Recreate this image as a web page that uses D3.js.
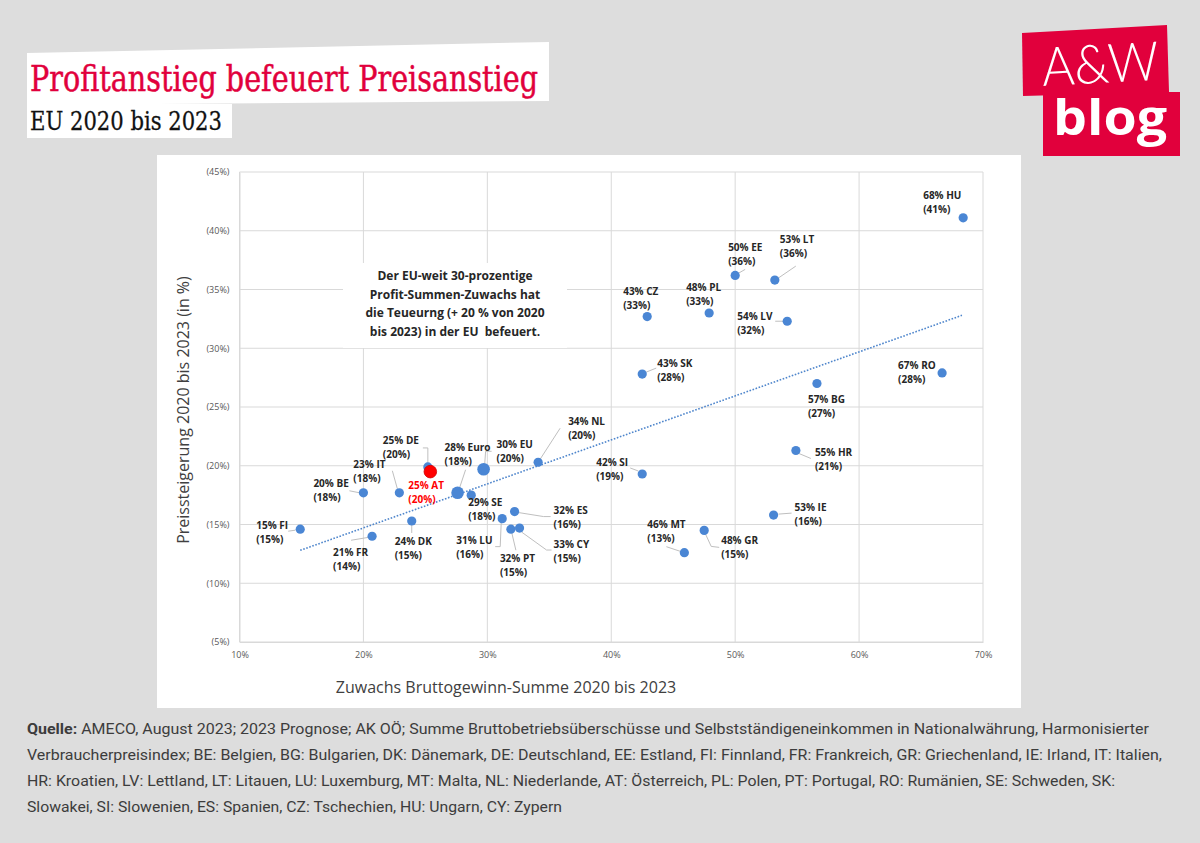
<!DOCTYPE html>
<html><head><meta charset="utf-8">
<script src="https://cdn.jsdelivr.net/npm/d3@7"></script>
<style>
html,body{margin:0;padding:0;background:#dddddd;}
svg{display:block;}
</style></head>
<body>
<svg id="c" width="1200" height="843"></svg>
<script>
// ---------- DATA ----------
const codes = ["HU","RO","EE","LT","CZ","PL","LV","SK","BG","HR","SI","IE","MT","GR","NL","EU","Euro","DE","AT","IT","BE","FI","FR","DK","SE","ES","LU","PT","CY"];
const profitGrowth = [68.4,66.7,50.0,53.2,42.9,47.9,54.2,42.5,56.6,54.9,42.5,53.1,45.9,47.5,34.1,29.7,27.6,25.2,25.4,22.9,20.0,14.9,20.7,23.9,28.7,32.2,31.2,31.9,32.6];
const priceGrowth  = [41.1,27.9,36.2,35.8,32.7,33.0,32.3,27.8,27.0,21.3,19.3,15.8,12.6,14.5,20.3,19.7,17.7,19.9,19.5,17.7,17.7,14.6,14.0,15.3,17.5,16.1,15.5,14.6,14.7];
const labelProfit  = [68,67,50,53,43,48,54,43,57,55,42,53,46,48,34,30,28,25,25,23,20,15,21,24,29,32,31,32,33];
const labelPrice   = [41,28,36,36,33,33,32,28,27,21,19,16,13,15,20,20,18,20,20,18,18,15,14,15,18,16,16,15,15];
const trendX = [14.9, 68.3];
const trendY = [12.8, 32.8];
const xTicks = [10,20,30,40,50,60,70];
const xTickLabels = ["10%","20%","30%","40%","50%","60%","70%"];
const yTicks = [5,10,15,20,25,30,35,40,45];
const yTickLabels = ["(5%)","(10%)","(15%)","(20%)","(25%)","(30%)","(35%)","(40%)","(45%)"];
const titleText = "Profitanstieg befeuert Preisanstieg";
const subtitleText = "EU 2020 bis 2023";
const xTitle = "Zuwachs Bruttogewinn-Summe 2020 bis 2023";
const yTitle = "Preissteigerung 2020 bis 2023 (in %)";
const noteLines = ["Der EU-weit 30-prozentige","Profit-Summen-Zuwachs hat","die Teueurng (+ 20 % von 2020","bis 2023) in der EU  befeuert."];
const footerLines = [
  ["Quelle:", " AMECO, August 2023; 2023 Prognose; AK OÖ; Summe Bruttobetriebsüberschüsse und Selbstständigeneinkommen in Nationalwährung, Harmonisierter"],
  ["", "Verbraucherpreisindex; BE: Belgien, BG: Bulgarien, DK: Dänemark, DE: Deutschland, EE: Estland, FI: Finnland, FR: Frankreich, GR: Griechenland, IE: Irland, IT: Italien,"],
  ["", "HR: Kroatien, LV: Lettland, LT: Litauen, LU: Luxemburg, MT: Malta, NL: Niederlande, AT: Österreich, PL: Polen, PT: Portugal, RO: Rumänien, SE: Schweden, SK:"],
  ["", "Slowakei, SI: Slowenien, ES: Spanien, CZ: Tschechien, HU: Ungarn, CY: Zypern"]
];

// ---------- LAYOUT (label offsets relative to dot, px) ----------
const labelOffset = {
  HU:[-40,-22], RO:[-44,-7], EE:[-7,-28], LT:[5,-41], CZ:[-24,-25], PL:[-23,-26], LV:[-50,-5],
  SK:[15,-11], BG:[-9,16], HR:[19,2], SI:[-46,-11], IE:[21,-8], MT:[-37,-28], GR:[17,10],
  NL:[30,-41], EU:[13,-25], Euro:[-13,-45], DE:[-45,-26], AT:[-22,14], IT:[-46,-28], BE:[-50,-9],
  FI:[-44,-4], FR:[-39,16], DK:[-17,21], SE:[-3,7], ES:[39,-1], LU:[-46,22], PT:[-11,29], CY:[34,16]
};
const leaders = {
  EE:[[3,-2],[10,-6]], LT:[[2,-1],[21,-14]], LV:[[-12,0],[-4,0]], SK:[[4,-2],[14,-6]],
  HR:[[3,3],[15,8]], SI:[[-12,-6],[-4,-3]], IE:[[5,-1],[18,-2]], MT:[[-18,-6],[-3,-1]],
  GR:[[1,3],[7,16],[15,17]], DE:[[-5,-19],[0,-19],[0,-3]], IT:[[-7,-22],[-2,-4]],
  BE:[[-14,-2],[-4,0]], FI:[[-12,2],[-5,1]], FR:[[-21,4],[-3,1]], DK:[[0,4],[0,12]],
  Euro:[[2,-5],[8,-23]], EU:[[1,-4],[2,-18],[8,-18]], NL:[[2,-3],[22,-34]],
  ES:[[4,1],[29,5],[36,5]], LU:[[-1,4],[-2,28],[-7,28]], PT:[[1,4],[5,21]], CY:[[2,4],[27,22],[32,22]]
};

const svg = d3.select("#c");
const RED = "#e1003c";
const BLUE = "#4a86d4";

// background
svg.append("rect").attr("width",1200).attr("height",843).attr("fill","#dddddd");

// ---------- Title ----------
svg.append("polygon").attr("points","27,53 549,42 549,101 27,105").attr("fill","#fff");
svg.append("rect").attr("x",27).attr("y",104).attr("width",205).attr("height",34).attr("fill","#fff");
svg.append("text").attr("x",30).attr("y",91).attr("font-family","'DejaVu Serif', serif")
  .attr("font-size",35).attr("fill",RED).attr("stroke",RED).attr("stroke-width",0.5)
  .attr("textLength",508).attr("lengthAdjust","spacingAndGlyphs")
  .text(titleText);
svg.append("text").attr("x",30).attr("y",130).attr("font-family","'DejaVu Serif', serif")
  .attr("font-size",26).attr("fill","#111").attr("stroke","#111").attr("stroke-width",0.3)
  .attr("textLength",192).attr("lengthAdjust","spacingAndGlyphs")
  .text(subtitleText);

// ---------- Logo ----------
svg.append("polygon").attr("points","1022,33 1167,25 1169,92 1023,96").attr("fill",RED);
svg.append("rect").attr("x",1043).attr("y",92).attr("width",137).attr("height",64).attr("fill",RED);
svg.append("text").attr("x",1100).attr("y",83).attr("text-anchor","middle")
  .attr("transform","rotate(-3,1100,63)")
  .attr("font-family","Lato, 'Open Sans', sans-serif").attr("font-weight",300)
  .attr("font-size",54).attr("fill","#fff").attr("textLength",117).attr("lengthAdjust","spacingAndGlyphs").text("A&W");
svg.append("text").attr("x",1110).attr("y",135).attr("text-anchor","middle")
  .attr("font-family","'Open Sans', sans-serif").attr("font-weight",700)
  .attr("font-size",48).attr("fill","#fff").attr("textLength",114).attr("lengthAdjust","spacingAndGlyphs").text("blog");

// ---------- Chart panel ----------
svg.append("rect").attr("x",157).attr("y",155).attr("width",864).attr("height",553).attr("fill","#fff");

const x = d3.scaleLinear().domain([10,70]).range([239.5,983]);
const y = d3.scaleLinear().domain([5,45]).range([642,172]);

const g = svg.append("g");
// grid
g.selectAll("line.vg").data(xTicks).join("line")
  .attr("x1",d=>x(d)).attr("x2",d=>x(d)).attr("y1",y(45)).attr("y2",y(5))
  .attr("stroke","#d9d9d9").attr("stroke-width",1);
g.selectAll("line.hg").data(yTicks).join("line")
  .attr("y1",d=>y(d)).attr("y2",d=>y(d)).attr("x1",x(10)).attr("x2",x(70))
  .attr("stroke","#d9d9d9").attr("stroke-width",1);

// axes tick labels via d3 axes
const xAxis = d3.axisBottom(x).tickValues(xTicks).tickFormat((d,i)=>xTickLabels[i]).tickSize(0).tickPadding(10);
const yAxis = d3.axisLeft(y).tickValues(yTicks).tickFormat((d,i)=>yTickLabels[i]).tickSize(0).tickPadding(10);
const gx = g.append("g").attr("transform",`translate(0,${y(5)})`).call(xAxis);
const gy = g.append("g").attr("transform",`translate(${x(10)},0)`).call(yAxis);
[gx,gy].forEach(a=>{
  a.select(".domain").attr("stroke","#d9d9d9");
  a.selectAll("text").attr("font-family","'Open Sans', sans-serif").attr("font-size",9).attr("fill","#595959");
});

// axis titles
svg.append("text").attr("x",506).attr("y",693).attr("text-anchor","middle")
  .attr("font-family","'Open Sans', sans-serif").attr("font-size",16).attr("fill","#404040").text(xTitle);
svg.append("text").attr("transform","translate(189,410) rotate(-90)").attr("text-anchor","middle")
  .attr("font-family","'Open Sans', sans-serif").attr("font-size",16).attr("fill","#404040").text(yTitle);

// note box
svg.append("rect").attr("x",343).attr("y",263).attr("width",224).attr("height",85).attr("fill","#fff");
svg.append("g").selectAll("text").data(noteLines).join("text")
  .attr("x",455).attr("y",(d,i)=>280+i*18.6).attr("text-anchor","middle")
  .attr("font-family","'Open Sans', sans-serif").attr("font-weight",700).attr("font-size",12).attr("fill","#262626")
  .style("white-space","pre")
  .text(d=>d);

// trend line
svg.append("line").attr("x1",x(trendX[0])).attr("y1",y(trendY[0])).attr("x2",x(trendX[1])).attr("y2",y(trendY[1]))
  .attr("stroke","#4f86cc").attr("stroke-width",1.6).attr("stroke-dasharray","1.6,1.6");

const pts = codes.map((c,i)=>({code:c, px:x(profitGrowth[i]), py:y(priceGrowth[i]), lp:labelProfit[i], lq:labelPrice[i]}));

// leader lines
svg.append("g").selectAll("polyline").data(pts.filter(p=>leaders[p.code])).join("polyline")
  .attr("points",p=>leaders[p.code].map(o=>[p.px+o[0],p.py+o[1]].join(",")).join(" "))
  .attr("fill","none").attr("stroke","#bfbfbf").attr("stroke-width",1);

// dots
const big = {EU:6.3, Euro:6.3, AT:6.3};
svg.append("g").selectAll("circle").data(pts).join("circle")
  .attr("cx",p=>p.px).attr("cy",p=>p.py).attr("r",p=>big[p.code]||4.6)
  .attr("fill",p=>p.code==="AT"?"#ff0000":BLUE)
  .attr("stroke",p=>p.code==="AT"?"#d00000":"none").attr("stroke-width",0.8);

// labels
const lg = svg.append("g").attr("font-family","'Open Sans', sans-serif").attr("font-weight",700).attr("font-size",10);
pts.forEach(p=>{
  const o = labelOffset[p.code];
  const t = lg.append("text").attr("fill",p.code==="AT"?"#ff0000":"#262626");
  t.append("tspan").attr("x",p.px+o[0]).attr("y",p.py+o[1]+3.5).text(`${p.lp}% ${p.code}`);
  t.append("tspan").attr("x",p.px+o[0]).attr("y",p.py+o[1]+17.5).text(`(${p.lq}%)`);
});

// ---------- Footer ----------
const fy = [734,760,786,812];
const fLen = [1122,1135,1088,535];
footerLines.forEach((ln,i)=>{
  const t = svg.append("text").attr("x",27).attr("y",fy[i])
    .attr("font-family","Roboto, sans-serif").attr("font-size",15).attr("fill","#3c3c3c")
    .attr("textLength",fLen[i]).attr("lengthAdjust","spacingAndGlyphs");
  if(ln[0]) t.append("tspan").attr("font-weight",700).text(ln[0]);
  t.append("tspan").text(ln[1]);
});
</script>
</body></html>
